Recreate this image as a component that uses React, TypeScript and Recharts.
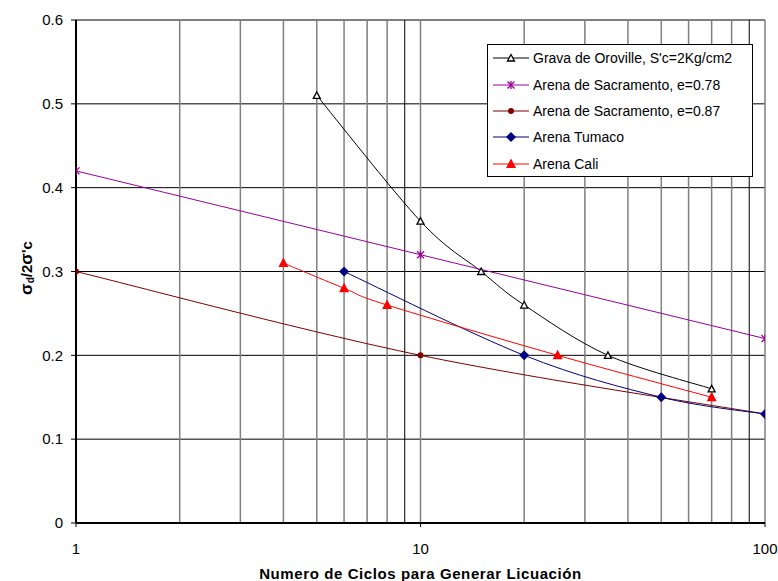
import React from 'react';
import {
  LineChart,
  Line,
  XAxis,
  YAxis,
  CartesianGrid,
  ReferenceLine,
  Legend,
  Label,
} from 'recharts';

// Número de ciclos vs relación de esfuerzos cíclicos
const gravaCiclos = [5, 10, 15, 20, 35, 70];
const gravaRazon = [0.51, 0.36, 0.3, 0.26, 0.2, 0.16];

const sacra78Ciclos = [1, 10, 100];
const sacra78Razon = [0.42, 0.32, 0.22];

const sacra87Ciclos = [1, 10, 100];
const sacra87Razon = [0.3, 0.2, 0.13];

const tumacoCiclos = [6, 20, 50, 100];
const tumacoRazon = [0.3, 0.2, 0.15, 0.13];

const caliCiclos = [4, 6, 8, 25, 70];
const caliRazon = [0.31, 0.28, 0.26, 0.2, 0.15];

const xTicks = [1, 10, 100];
const yTicks = [0, 0.1, 0.2, 0.3, 0.4, 0.5, 0.6];
const gridGris = [2, 3, 4, 5, 6, 7, 8, 10, 20, 30, 40, 50, 60, 70, 80, 100];
const gridNegro = [9, 90];

const nombres = [
  "Grava de Oroville, S'c=2Kg/cm2",
  'Arena de Sacramento, e=0.78',
  'Arena de Sacramento, e=0.87',
  'Arena Tumaco',
  'Arena Cali',
];

const toRows = (ciclos: number[], razon: number[]) =>
  ciclos.map((c, i) => ({ ciclos: c, razon: razon[i] }));

const font = '"Liberation Sans", Arial, sans-serif';

// suavizado tipo Catmull-Rom (como la línea suavizada de Excel)
const suave = (context: any) => {
  let pts: [number, number][] = [];
  return {
    areaStart() {},
    areaEnd() {},
    lineStart() {
      pts = [];
    },
    lineEnd() {
      if (!pts.length) return;
      context.moveTo(pts[0][0], pts[0][1]);
      for (let i = 0; i < pts.length - 1; i++) {
        const p0 = pts[Math.max(i - 1, 0)];
        const p1 = pts[i];
        const p2 = pts[i + 1];
        const p3 = pts[Math.min(i + 2, pts.length - 1)];
        context.bezierCurveTo(
          p1[0] + (p2[0] - p0[0]) / 6,
          p1[1] + (p2[1] - p0[1]) / 6,
          p2[0] - (p3[0] - p1[0]) / 6,
          p2[1] - (p3[1] - p1[1]) / 6,
          p2[0],
          p2[1],
        );
      }
    },
    point(x: number, y: number) {
      pts.push([x, y]);
    },
  };
};

// marker shapes
const triAbierto = (cx: number, cy: number) => (
  <path
    d={`M${cx},${cy - 3.5} L${cx + 3.5},${cy + 3} L${cx - 3.5},${cy + 3} Z`}
    fill="#fff"
    stroke="#000"
    strokeWidth={1.3}
  />
);
const asterisco = (cx: number, cy: number) => (
  <g stroke="#990099" strokeWidth={1.3}>
    <line x1={cx - 3.5} y1={cy - 3.5} x2={cx + 3.5} y2={cy + 3.5} />
    <line x1={cx - 3.5} y1={cy + 3.5} x2={cx + 3.5} y2={cy - 3.5} />
    <line x1={cx} y1={cy - 4} x2={cx} y2={cy + 4} />
  </g>
);
const punto = (cx: number, cy: number) => <circle cx={cx} cy={cy} r={3} fill="#800000" />;
const rombo = (cx: number, cy: number) => (
  <path
    d={`M${cx},${cy - 5} L${cx + 5},${cy} L${cx},${cy + 5} L${cx - 5},${cy} Z`}
    fill="#000080"
  />
);
const triLleno = (cx: number, cy: number) => (
  <path
    d={`M${cx},${cy - 5.5} L${cx + 5},${cy + 4} L${cx - 5},${cy + 4} Z`}
    fill="#FF0000"
  />
);

const marcadores = [triAbierto, asterisco, punto, rombo, triLleno];
const colores = ['#000000', '#990099', '#800000', '#000080', '#FF0000'];

const dotFrom = (shape: (cx: number, cy: number) => React.ReactElement) => (props: any) => {
  const { cx, cy, index } = props;
  if (cx == null || cy == null) return <g key={index} />;
  return <g key={index}>{shape(cx, cy)}</g>;
};

const Leyenda = () => (
  <div
    style={{
      width: 266,
      height: 133,
      border: '1px solid #000',
      background: '#fff',
      boxSizing: 'border-box',
      fontFamily: font,
      fontSize: 14,
      color: '#000',
    }}
  >
    {nombres.map((n, i) => (
      <div key={n} style={{ height: 26.4, display: 'flex', alignItems: 'center' }}>
        <svg width={36} height={14} style={{ marginLeft: 5, marginRight: 4 }}>
          <line x1={0} y1={7} x2={36} y2={7} stroke={colores[i]} strokeWidth={1} />
          {marcadores[i](18, 7)}
        </svg>
        <span style={{ whiteSpace: 'nowrap' }}>{n}</span>
      </div>
    ))}
  </div>
);

const EtiquetaY = () => (
  <text
    transform="translate(32,268) rotate(-90)"
    textAnchor="middle"
    fontFamily={font}
    fontWeight="bold"
    fontSize={15}
    fill="#000"
  >
    <tspan fontSize={17}>σ</tspan>
    <tspan fontSize={10} dy={2}>d</tspan>
    <tspan dy={-2}>/2</tspan>
    <tspan fontSize={17}>σ</tspan>
    <tspan>'c</tspan>
  </text>
);

const App = () => {
  const series = [
    toRows(gravaCiclos, gravaRazon),
    toRows(sacra78Ciclos, sacra78Razon),
    toRows(sacra87Ciclos, sacra87Razon),
    toRows(tumacoCiclos, tumacoRazon),
    toRows(caliCiclos, caliRazon),
  ];
  const curvas: any[] = [suave, 'linear', suave, suave, suave];

  return (
    <div style={{ position: 'absolute', left: 0, top: 0, width: 778, height: 581, background: '#fff' }}>
      <LineChart width={778} height={581} margin={{ top: 20, right: 13, left: 0, bottom: 0 }}>
        <CartesianGrid vertical={false} stroke="#000" strokeWidth={1} />
        {gridGris.map((v) => (
          <ReferenceLine key={`g${v}`} x={v} stroke="#808080" strokeWidth={1.5} />
        ))}
        {gridNegro.map((v) => (
          <ReferenceLine key={`n${v}`} x={v} stroke="#000" strokeWidth={1} />
        ))}
        <XAxis
          dataKey="ciclos"
          type="number"
          scale="log"
          domain={[1, 100]}
          ticks={xTicks}
          allowDataOverflow
          allowDuplicatedCategory={false}
          height={58}
          axisLine={{ stroke: '#000', strokeWidth: 2 }}
          tickLine={{ stroke: '#000' }}
          tickSize={4}
          tickMargin={16}
          tick={{ fontSize: 15, fill: '#000', fontFamily: font }}
        >
          <Label
            value="Numero de Ciclos para Generar Licuación"
            position="insideBottom"
            offset={2}
            style={{ fontSize: 15, fontWeight: 'bold', fill: '#000', fontFamily: font, letterSpacing: 0.6 }}
          />
        </XAxis>
        <YAxis
          type="number"
          domain={[0, 0.6]}
          ticks={yTicks}
          width={76}
          axisLine={{ stroke: '#000', strokeWidth: 2 }}
          tickLine={{ stroke: '#000' }}
          tickSize={5}
          tickMargin={8}
          tick={{ fontSize: 15, fill: '#000', fontFamily: font }}
        >
          <Label content={() => <EtiquetaY />} />
        </YAxis>
        <Legend
          layout="horizontal"
          align="center"
          verticalAlign="middle"
          content={() => <Leyenda />}
          wrapperStyle={{ left: 487, top: 44, width: 266, height: 133 }}
        />
        {series.map((d, i) => (
          <Line
            key={nombres[i]}
            name={nombres[i]}
            data={d}
            dataKey="razon"
            type={curvas[i]}
            stroke={colores[i]}
            strokeWidth={1}
            dot={dotFrom(marcadores[i])}
            activeDot={false}
            isAnimationActive={false}
          />
        ))}
      </LineChart>
    </div>
  );
};

export default App;
